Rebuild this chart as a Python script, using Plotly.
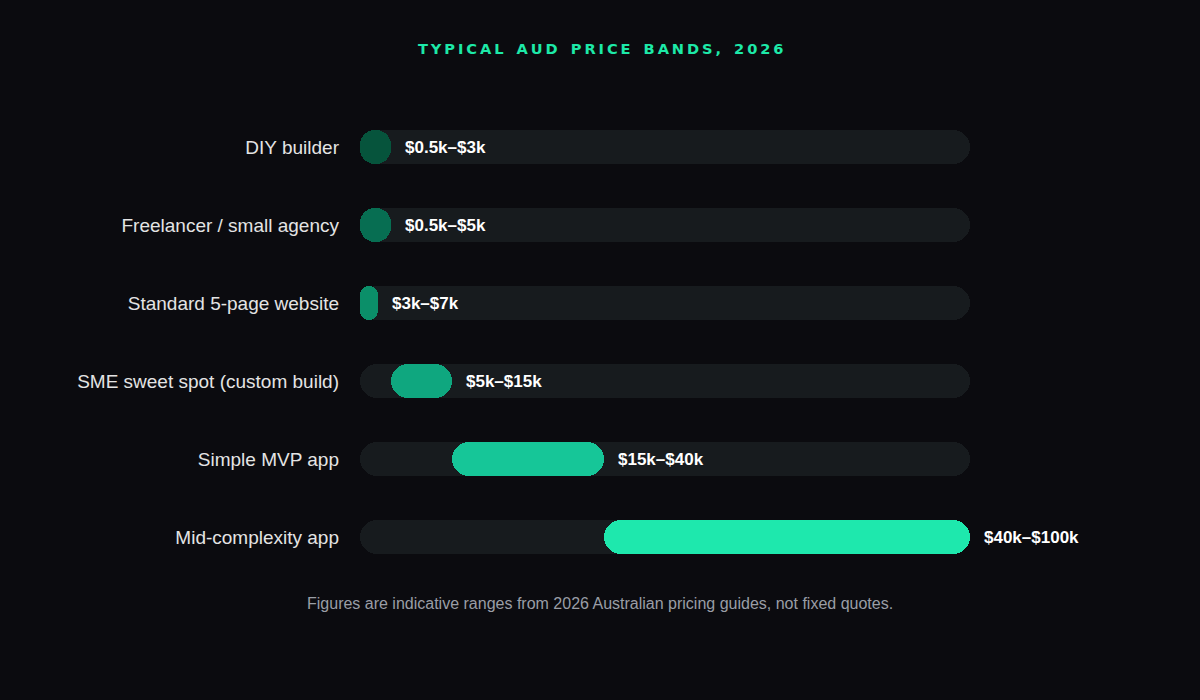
import plotly.graph_objects as go

# ── Data (AUD, thousands)
CATEGORIES = [
    'DIY builder',
    'Freelancer / small agency',
    'Standard 5-page website',
    'SME sweet spot (custom build)',
    'Simple MVP app',
    'Mid-complexity app',
]
BAR_START = [0, 0, 0, 5, 15, 40]
BAR_END = [5, 5, 3, 15, 40, 100]
RANGE_LABELS = ['$0.5k–$3k', '$0.5k–$5k', '$3k–$7k', '$5k–$15k', '$15k–$40k', '$40k–$100k']
TRACK_MAX = 100

# ── Style
BG = '#0b0b0f'
TRACK = '#171b1e'
BAR_COLORS = ['#06543c', '#076e52', '#0b8f69', '#0fa77f', '#16c698', '#1ee8ad']
TITLE = 'TYPICAL AUD PRICE BANDS, 2026'
FOOTNOTE = 'Figures are indicative ranges from 2026 Australian pricing guides, not fixed quotes.'

# page is 1200 wide, plot area is 360..970 -> page centre sits 65px left of plot centre
CENTRE_SHIFT = -65


def spaced(text):
    # plotly has no letter-spacing, fake it with thin spaces
    return '\u2009'.join(ch if ch != ' ' else '\u2002' for ch in text)


fig = go.Figure()

# background tracks
fig.add_trace(go.Bar(
    y=CATEGORIES, x=[TRACK_MAX] * len(CATEGORIES), base=0,
    orientation='h', width=0.436,
    marker=dict(color=TRACK, cornerradius='50%', line=dict(width=0)),
    hoverinfo='skip', showlegend=False,
))

# price bands
fig.add_trace(go.Bar(
    y=CATEGORIES,
    x=[e - s for s, e in zip(BAR_START, BAR_END)],
    base=BAR_START,
    orientation='h', width=0.436,
    marker=dict(color=BAR_COLORS, cornerradius='50%', line=dict(width=0)),
    showlegend=False,
))

for cat, end, label in zip(CATEGORIES, BAR_END, RANGE_LABELS):
    fig.add_annotation(
        x=end, y=cat, text=f'<b>{label}</b>',
        xanchor='left', xshift=12, showarrow=False,
        font=dict(family='Liberation Sans, Arial', size=17, color='#ffffff'),
    )

fig.add_annotation(
    xref='paper', yref='paper', x=0.5, y=1, xshift=CENTRE_SHIFT, yshift=60,
    xanchor='center', yanchor='middle', text=f'<b>{spaced(TITLE)}</b>', showarrow=False,
    font=dict(family='DejaVu Sans, Arial', size=14.6, color='#1de9a8'),
)
fig.add_annotation(
    xref='paper', yref='paper', x=0.5, y=0, xshift=CENTRE_SHIFT, yshift=-27,
    xanchor='center', yanchor='middle', text=FOOTNOTE, showarrow=False,
    font=dict(family='Liberation Sans, Arial', size=16, color='#9a9ea6'),
)

fig.update_layout(
    width=1200, height=700,
    paper_bgcolor=BG, plot_bgcolor=BG,
    margin=dict(l=360, r=230, t=108, b=124, autoexpand=False),
    barmode='overlay',
    bargap=0,
    xaxis=dict(range=[0, TRACK_MAX], visible=False, fixedrange=True),
    yaxis=dict(
        autorange='reversed', showgrid=False, zeroline=False,
        ticks='', ticklabelstandoff=20,
        tickfont=dict(family='Liberation Sans, Arial', size=19, color='#e4e4e4'),
    ),
)

fig.write_html(
    'out.html',
    config={'displayModeBar': False},
    post_script="document.body.style.margin='0';",
)
